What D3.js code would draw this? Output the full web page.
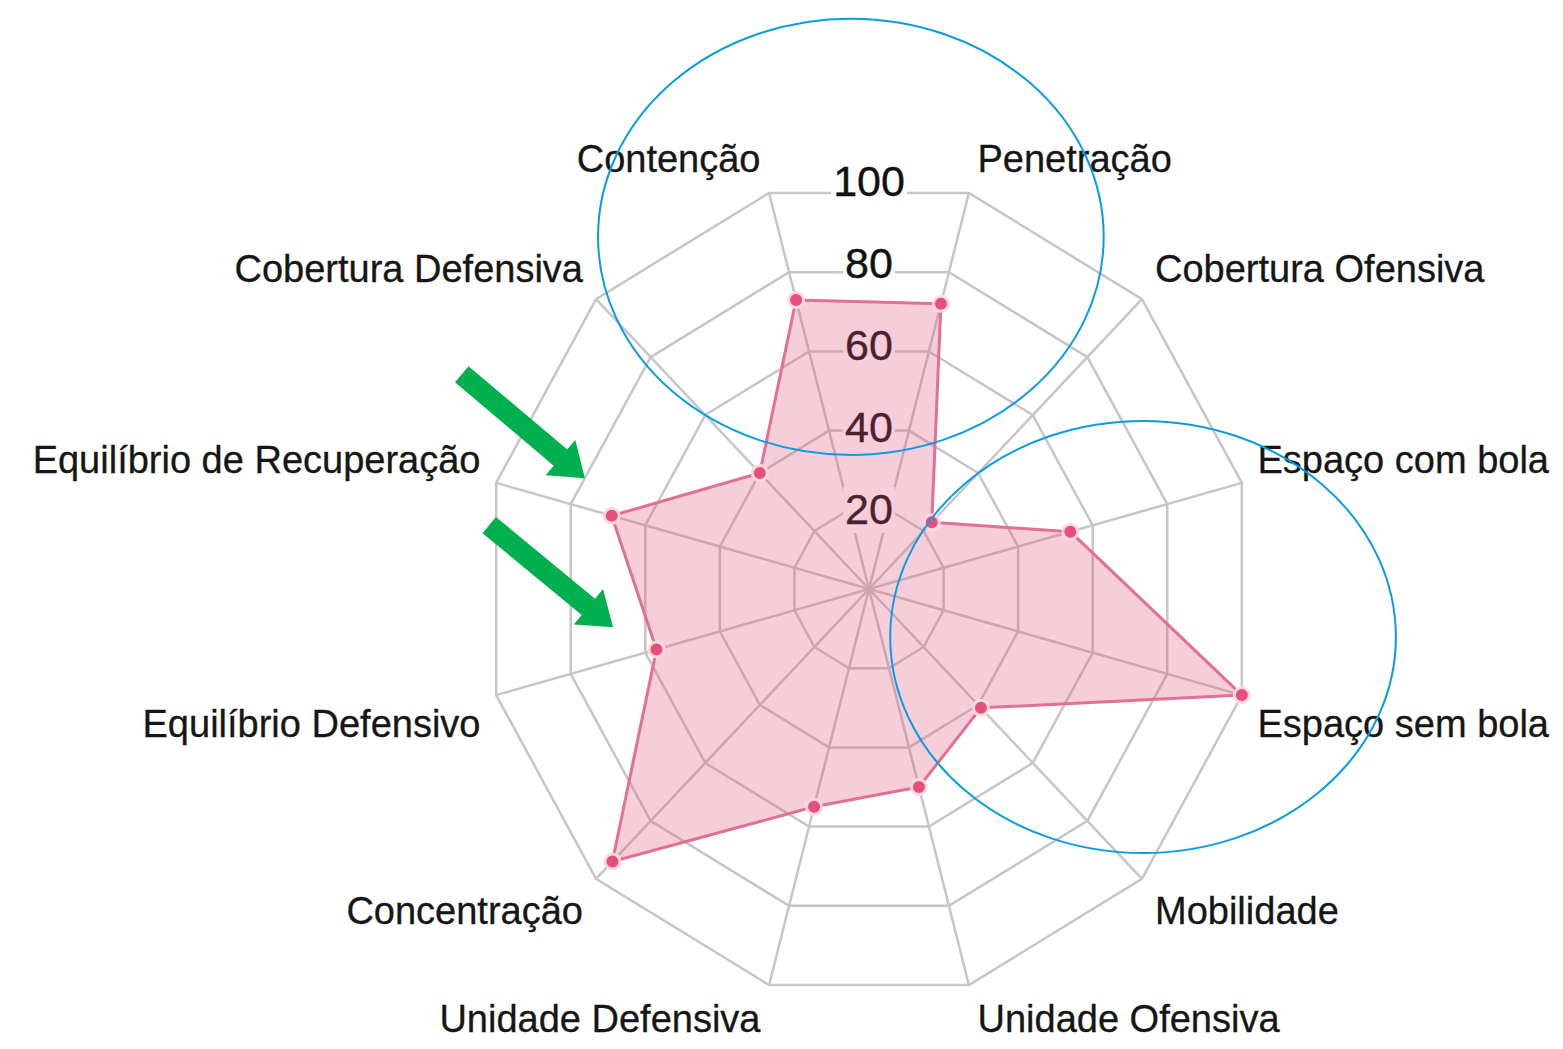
<!DOCTYPE html>
<html>
<head>
<meta charset="utf-8">
<script src="https://cdn.jsdelivr.net/npm/d3@7"></script>
<style>
  body { margin: 0; background: #fff; }
  svg { display: block; }
  text { font-family: "Liberation Sans", Arial, Helvetica, sans-serif; }
</style>
</head>
<body>
<svg id="chart" width="1563" height="1049"></svg>
<script>
// axis labels, clockwise from the top-left spoke
var labels = ["Contenção", "Penetração", "Cobertura Ofensiva", "Espaço com bola",
  "Espaço sem bola", "Mobilidade", "Unidade Ofensiva", "Unidade Defensiva",
  "Concentração", "Equilíbrio Defensivo", "Equilíbrio de Recuperação", "Cobertura Defensiva"];
var values = [73, 72, 23, 54, 100, 41, 50, 55, 94, 57, 69, 40];
var ticks = [20, 40, 60, 80, 100];

// annotations, in chart units (-100..100 on both axes)
var ellipses = [
  { x: -4.7, y: 85.9, rx: 65.5, ry: 53.2 },
  { x: 71, y: -11.7, rx: 65.5, ry: 52.7 }
];
var arrows = [
  { x1: -105.5, y1: 52.4, x2: -73.6, y2: 27 },
  { x1: -98.4, y1: 15.6, x2: -66.3, y2: -9.3 }
];

var svg = d3.select("#chart");
var cx = 869, cy = 589, rx = 386, ry = 410;

var xs = d3.scaleLinear().domain([-100, 100]).range([cx - rx, cx + rx]);
var ys = d3.scaleLinear().domain([-100, 100]).range([cy + ry, cy - ry]);
var r = d3.scaleLinear().domain([0, 100]).range([0, 100]);

var n = labels.length;
function angle(i) { return (i * 360 / n - 15) * Math.PI / 180; }
function pt(i, v) {
  var a = angle(i);
  return [xs(r(v) * Math.sin(a)), ys(r(v) * Math.cos(a))];
}

var grid = svg.append("g");
// spokes
grid.selectAll("line").data(labels).enter().append("line")
  .attr("x1", xs(0)).attr("y1", ys(0))
  .attr("x2", function(d, i) { return pt(i, 100)[0]; })
  .attr("y2", function(d, i) { return pt(i, 100)[1]; })
  .attr("stroke", "#c6c6c6").attr("stroke-width", 2.5);
// rings
grid.selectAll("polygon").data(ticks).enter().append("polygon")
  .attr("points", function(t) {
    return labels.map(function(d, i) { return pt(i, t).join(","); }).join(" ");
  })
  .attr("fill", "none").attr("stroke", "#c6c6c6").attr("stroke-width", 2.5);

// tick labels with backdrop
var tg = svg.append("g").selectAll("g").data(ticks).enter().append("g");
tg.append("rect").attr("fill", "#fff");
tg.append("text")
  .attr("x", xs(0))
  .attr("y", function(t) { return ys(t) + 2; })
  .attr("text-anchor", "middle")
  .attr("dominant-baseline", "central")
  .attr("font-size", 43)
  .attr("fill", "#111")
  .attr("stroke", "#111").attr("stroke-width", 0.4)
  .text(function(t) { return t; });
tg.each(function() {
  var b = d3.select(this).select("text").node().getBBox();
  d3.select(this).select("rect")
    .attr("x", b.x - 2).attr("y", b.y + 2)
    .attr("width", b.width + 4).attr("height", b.height - 2);
});

// dataset
var shape = values.map(function(v, i) { return pt(i, v); });
svg.append("path")
  .attr("d", d3.line().curve(d3.curveLinearClosed)(shape))
  .attr("fill", "rgba(220, 80, 120, 0.28)")
  .attr("stroke", "rgb(226, 112, 146)")
  .attr("stroke-width", 3)
  .attr("stroke-linejoin", "round");

svg.append("g").selectAll("circle").data(shape).enter().append("circle")
  .attr("cx", function(d) { return d[0]; })
  .attr("cy", function(d) { return d[1]; })
  .attr("r", 7.5)
  .attr("fill", "rgb(232, 78, 122)")
  .attr("stroke", "rgba(255, 220, 228, 0.95)")
  .attr("stroke-width", 3);

// point labels
svg.append("g").selectAll("text").data(labels).enter().append("text")
  .attr("x", function(d, i) {
    var s = Math.sin(angle(i));
    return pt(i, 100)[0] + (s > 0 ? 1 : -1) * (6 + 10 * Math.abs(s));
  })
  .attr("y", function(d, i) {
    var c = Math.cos(angle(i));
    return pt(i, 100)[1] + (c > 0 ? -(5 + 17 * c) : (40 + 7 * Math.abs(c)));
  })
  .attr("text-anchor", function(d, i) { return Math.sin(angle(i)) > 0 ? "start" : "end"; })
  .attr("font-size", 38)
  .attr("fill", "#161616")
  .attr("stroke", "#161616").attr("stroke-width", 0.3)
  .text(function(d) { return d; });

// blue ellipses
svg.append("g").selectAll("ellipse").data(ellipses).enter().append("ellipse")
  .attr("cx", function(d) { return xs(d.x); })
  .attr("cy", function(d) { return ys(d.y); })
  .attr("rx", function(d) { return xs(d.rx) - xs(0); })
  .attr("ry", function(d) { return ys(0) - ys(d.ry); })
  .attr("fill", "none").attr("stroke", "#0a9be6").attr("stroke-width", 2);

// green arrows
svg.append("g").selectAll("polygon").data(arrows).enter().append("polygon")
  .attr("points", function(d) {
    var x1 = xs(d.x1), y1 = ys(d.y1), x2 = xs(d.x2), y2 = ys(d.y2);
    var dx = x2 - x1, dy = y2 - y1, len = Math.sqrt(dx * dx + dy * dy);
    var ux = dx / len, uy = dy / len, px = -uy, py = ux;
    var sw = 10.5, hw = 23, hl = 32;
    var bx = x2 - ux * hl, by = y2 - uy * hl;
    return [
      [x1 + px * sw, y1 + py * sw], [bx + px * sw, by + py * sw], [bx + px * hw, by + py * hw],
      [x2, y2],
      [bx - px * hw, by - py * hw], [bx - px * sw, by - py * sw], [x1 - px * sw, y1 - py * sw]
    ].map(function(p) { return p.join(","); }).join(" ");
  })
  .attr("fill", "#00b04f");
</script>
</body>
</html>
